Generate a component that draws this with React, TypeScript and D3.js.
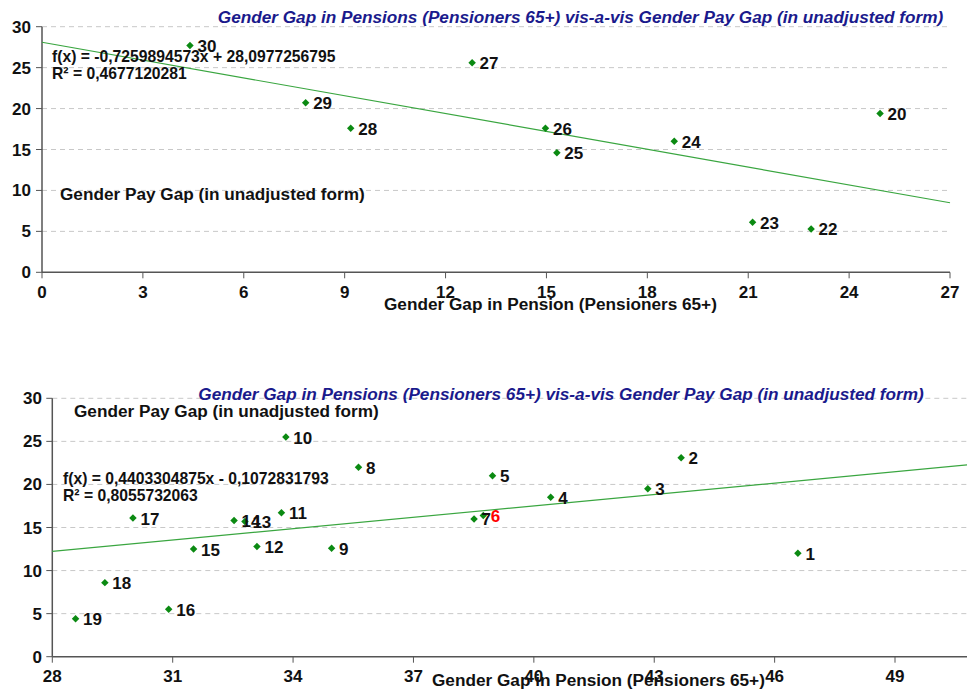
import React from 'react';
import * as d3 from 'd3';

// ---------- data ----------
const titleText = 'Gender Gap in Pensions (Pensioners 65+) vis-a-vis Gender Pay Gap (in unadjusted form)';
const yAxisTitle = 'Gender Pay Gap (in unadjusted form)';
const xAxisTitle = 'Gender Gap in Pension (Pensioners 65+)';

const topLabels = ['30', '29', '28', '27', '26', '25', '24', '23', '22', '20'];
const topX = [4.4, 7.84, 9.18, 12.79, 14.97, 15.31, 18.8, 21.13, 22.87, 24.92];
const topY = [27.7, 20.7, 17.6, 25.6, 17.6, 14.6, 16.0, 6.1, 5.3, 19.4];
const topSlope = -0.7259894573;
const topIntercept = 28.0977256795;
const topEq = ['f(x) = -0,7259894573x + 28,0977256795', 'R² = 0,4677120281'];
const topXTicks = [0, 3, 6, 9, 12, 15, 18, 21, 24, 27];
const topYTicks = [0, 5, 10, 15, 20, 25, 30];

const bottomLabels = ['1', '2', '3', '4', '5', '6', '7', '8', '9', '10', '11', '12', '13', '14', '15', '16', '17', '18', '19'];
const bottomX = [46.58, 43.67, 42.84, 40.42, 38.97, 38.74, 38.51, 35.63, 34.96, 33.82, 33.71, 33.1, 32.8, 32.53, 31.52, 30.9, 30.01, 29.31, 28.58];
const bottomY = [12.0, 23.1, 19.5, 18.5, 21.0, 16.4, 16.0, 22.0, 12.6, 25.5, 16.7, 12.8, 15.7, 15.8, 12.5, 5.5, 16.1, 8.6, 4.4];
const bottomSlope = 0.4403304875;
const bottomIntercept = -0.1072831793;
const bottomEq = ['f(x) = 0,4403304875x - 0,1072831793', 'R² = 0,8055732063'];
const bottomXTicks = [28, 31, 34, 37, 40, 43, 46, 49];
const bottomYTicks = [0, 5, 10, 15, 20, 25, 30];
const highlightLabel = '6';

// ---------- styles ----------
const FONT = '"Liberation Sans", Arial, Helvetica, sans-serif';
const TITLE_COLOR = '#1a1a8c';
const MARKER = '#0b8a12';
const TREND = '#3aa640';
const AXIS = '#555';
const GRID = '#c8c8c8';

type PanelProps = {
  labels: string[];
  xs: number[];
  ys: number[];
  slope: number;
  intercept: number;
  eq: string[];
  xTicks: number[];
  yTicks: number[];
  xDomain: [number, number];
  xRange: [number, number];
  yRange: [number, number];
  axisRight: number;
  titleX: number;
  titleY: number;
  yTitlePos: [number, number];
  xTitlePos: [number, number];
  eqPos: [number, number];
  yTickRight: number;
  xTickBaseline: number;
};

function Panel(p: PanelProps) {
  const x = d3.scaleLinear().domain(p.xDomain).range(p.xRange);
  const y = d3.scaleLinear().domain([0, 30]).range(p.yRange);
  const x0 = p.xRange[0];
  const yBase = y(0);
  const line = d3.line<number>()
    .x((d) => x(d))
    .y((d) => y(p.slope * d + p.intercept));
  const square = d3.symbol().type(d3.symbolSquare).size(28)();
  return (
    <g fontFamily={FONT}>
      {/* grid */}
      {p.yTicks.filter((t) => t > 0).map((t) => (
        <line key={'g' + t} x1={x0} x2={p.axisRight} y1={y(t)} y2={y(t)} stroke={GRID} strokeDasharray="5,4" strokeWidth={1} />
      ))}
      {/* axes */}
      <line x1={x0} x2={x0} y1={y(30)} y2={yBase} stroke={AXIS} strokeWidth={1.5} />
      <line x1={x0} x2={p.axisRight} y1={yBase} y2={yBase} stroke={AXIS} strokeWidth={1.5} />
      {p.yTicks.map((t) => (
        <g key={'y' + t}>
          <line x1={x0 - 6} x2={x0} y1={y(t)} y2={y(t)} stroke={AXIS} strokeWidth={1} />
          <text x={p.yTickRight} y={y(t) + 6} textAnchor="end" fontSize={17} fontWeight="bold" fill="#111">{t}</text>
        </g>
      ))}
      {p.xTicks.map((t) => (
        <g key={'x' + t}>
          <line x1={x(t)} x2={x(t)} y1={yBase} y2={yBase + 6} stroke={AXIS} strokeWidth={1} />
          <text x={x(t)} y={p.xTickBaseline} textAnchor="middle" fontSize={17} fontWeight="bold" fill="#111">{t}</text>
        </g>
      ))}
      {/* trend line */}
      <path d={line([p.xDomain[0], p.xDomain[1]]) || ''} fill="none" stroke={TREND} strokeWidth={1.2} />
      {/* points */}
      {p.xs.map((v, i) => (
        <path key={'p' + i} d={square || ''} transform={`translate(${x(v)},${y(p.ys[i])}) rotate(45)`} fill={MARKER} />
      ))}
      {p.xs.map((v, i) => (
        <text key={'l' + i} x={x(v) + 7.5} y={y(p.ys[i]) + 6.5} fontSize={17} fontWeight="bold"
          fill={p.labels[i] === highlightLabel ? '#ff0000' : '#111'}>{p.labels[i]}</text>
      ))}
      {/* texts */}
      <text x={p.titleX} y={p.titleY} textAnchor="middle" fontSize={17.2} fontWeight="bold" fontStyle="italic" fill={TITLE_COLOR}>{titleText}</text>
      <text x={p.yTitlePos[0]} y={p.yTitlePos[1]} fontSize={17.2} fontWeight="bold" fill="#111">{yAxisTitle}</text>
      <text x={p.xTitlePos[0]} y={p.xTitlePos[1]} fontSize={17.2} fontWeight="bold" fill="#111">{xAxisTitle}</text>
      {p.eq.map((s, i) => (
        <text key={'e' + i} x={p.eqPos[0]} y={p.eqPos[1] + i * 16.7} fontSize={15.7} fontWeight="bold" fill="#111">{s}</text>
      ))}
    </g>
  );
}

export default function App() {
  return (
    <svg width={967} height={690} style={{ position: 'absolute', left: 0, top: 0, background: '#fff' }}>
      <rect width={967} height={690} fill="#fff" />
      <Panel
        labels={topLabels} xs={topX} ys={topY} slope={topSlope} intercept={topIntercept} eq={topEq}
        xTicks={topXTicks} yTicks={topYTicks}
        xDomain={[0, 27]} xRange={[42, 950]} yRange={[272.3, 26.7]} axisRight={950}
        titleX={580.5} titleY={22.5} yTitlePos={[60, 199.5]} xTitlePos={[384, 309.5]} eqPos={[52, 62]}
        yTickRight={31} xTickBaseline={297.5}
      />
      <Panel
        labels={bottomLabels} xs={bottomX} ys={bottomY} slope={bottomSlope} intercept={bottomIntercept} eq={bottomEq}
        xTicks={bottomXTicks} yTicks={bottomYTicks}
        xDomain={[28, 52]} xRange={[52.3, 1015.4]} yRange={[656.7, 398.3]} axisRight={967}
        titleX={561} titleY={399.5} yTitlePos={[74, 416.5]} xTitlePos={[432, 686]} eqPos={[63, 484]}
        yTickRight={42} xTickBaseline={682}
      />
    </svg>
  );
}
